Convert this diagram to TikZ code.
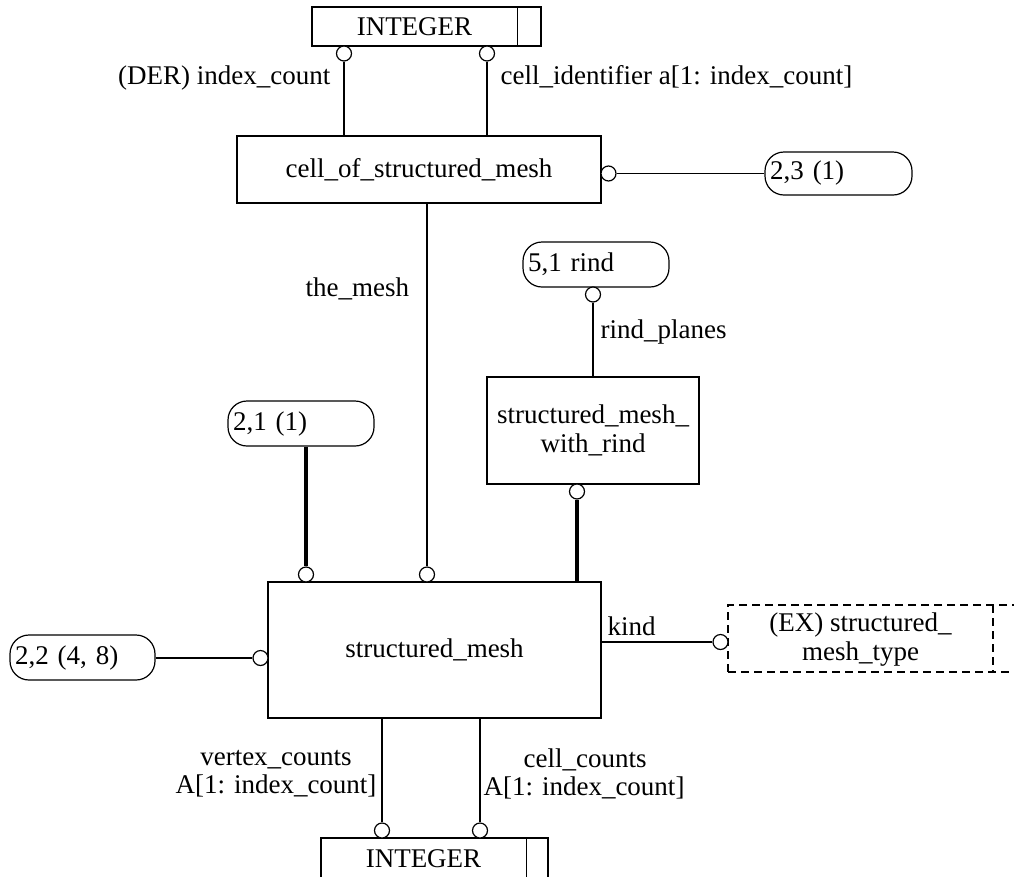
\documentclass[tikz,border=0pt]{standalone}
\usepackage{fontspec}
\setmainfont{Liberation Serif}
\begin{document}
\begin{tikzpicture}[x=1pt,y=-1pt,
  font=\fontsize{27}{29}\selectfont, line width=1.2pt,
  box/.style={draw, rectangle, inner sep=0pt, align=center},
  rbox/.style={draw, rounded corners=19pt, inner xsep=5pt, inner ysep=0pt, align=left},
  ring/.style={draw, circle, minimum size=15pt, inner sep=0pt, fill=white},
  heavy/.style={line width=4pt},
  lbl/.style={inner sep=0pt, align=center},
  dbox/.style={draw, dash pattern=on 8pt off 5pt, rectangle, inner sep=0pt}]
\useasboundingbox (0,0) rectangle (1014,876);

% top INTEGER
\node[box, minimum width=229pt, minimum height=39pt] (int1) at (426.5,26.5) {};
\draw ([xshift=-24pt]int1.north east) -- ([xshift=-24pt]int1.south east);
\node[lbl] (int1t) at (414.5,26.5) {INTEGER};

% cell_of_structured_mesh
\node[box, minimum width=364pt, minimum height=67pt] (cell) at (419,169.5) {cell\_of\_structured\_mesh};

\node[ring] (c1) at (344,53.5) {};
\node[ring] (c2) at (487,53.5) {};
\draw (c1.south) -- (c1.south |- cell.north);
\draw (c2.south) -- (c2.south |- cell.north);
\node[lbl, anchor=base east] (l1) at (331,84) {(DER) index\_count};
\node[lbl, anchor=base west] (l2) at (500,84) {cell\_identifier a[1: index\_count]};

% 2,3 (1)
\node[rbox, minimum width=147pt, minimum height=43pt, text width=137pt] (r23) at (838.5,173.5) {2,3 (1)};
\node[ring] (c3) at (608.5,173.5) {};
\draw (c3.east) -- (r23.west);

% 5,1 rind
\node[rbox, minimum width=146pt, minimum height=45pt, text width=136pt] (r51) at (596,264.5) {5,1 rind};
\node[ring] (c4) at (593,294.5) {};

% structured_mesh_with_rind
\node[box, minimum width=212pt, minimum height=107pt] (rind) at (593,430.5) {structured\_mesh\_\\with\_rind};
\draw (c4.south) -- (c4.south |- rind.north);
\node[lbl, anchor=base west] (l3) at (600,338) {rind\_planes};

% 2,1 (1)
\node[rbox, minimum width=146pt, minimum height=45pt, text width=136pt] (r21) at (301,423.5) {2,1 (1)};

% structured_mesh
\node[box, minimum width=333pt, minimum height=136pt] (sm) at (434.5,650) {structured\_mesh};

\node[ring] (c5) at (306,574.5) {};
\draw[heavy] (c5.north |- r21.south) -- (c5.north);
\node[ring] (c6) at (427,574.5) {};
\draw (c6.north |- cell.south) -- (c6.north);
\node[lbl, anchor=base west] (l4) at (305,296) {the\_mesh};
\node[ring] (c7) at (577,491.5) {};
\draw[heavy] (c7.south) -- (c7.south |- sm.north);

% 2,2 (4, 8)
\node[rbox, minimum width=145pt, minimum height=45pt, text width=135pt] (r22) at (82.5,657.5) {2,2 (4, 8)};
\node[ring] (c8) at (260.5,658) {};
\draw (r22.east |- c8.west) -- (c8.west);

% kind -> EX structured_mesh_type
\node[dbox, minimum width=288pt, minimum height=67pt] (ex) at (872,638.5) {};
\draw[dash pattern=on 8pt off 5pt] (993,605) -- (993,672);
\node[lbl] (ext) at (860.5,640) {(EX) structured\_\\mesh\_type};
\node[ring] (c9) at (720.5,642) {};
\draw (sm.east |- c9.west) -- (c9.west);
\node[lbl, anchor=base west] (l5) at (607,635) {kind};

% bottom INTEGER
\node[box, minimum width=227pt, minimum height=40pt] (int2) at (434.5,858) {};
\draw ([xshift=-22pt]int2.north east) -- ([xshift=-22pt]int2.south east);
\node[lbl] (int2t) at (423.5,859) {INTEGER};
\node[ring] (c10) at (382,830.5) {};
\node[ring] (c11) at (480,830.5) {};
\draw (c10.north |- sm.south) -- (c10.north);
\draw (c11.north |- sm.south) -- (c11.north);
\node[lbl, anchor=base] (l6a) at (276,765) {vertex\_counts};
\node[lbl, anchor=base] (l6b) at (276,793) {A[1: index\_count]};
\node[lbl, anchor=base] (l7a) at (585,767) {cell\_counts};
\node[lbl, anchor=base] (l7b) at (584,795) {A[1: index\_count]};
\end{tikzpicture}
\end{document}
